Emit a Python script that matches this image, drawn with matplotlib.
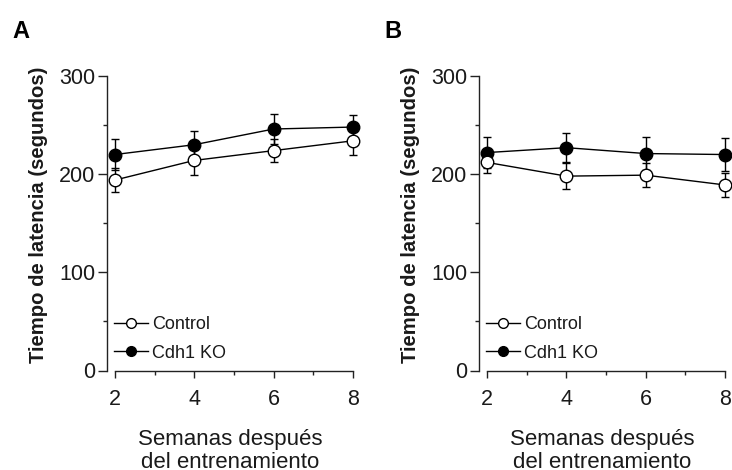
import matplotlib
matplotlib.use("Agg")
import matplotlib.pyplot as plt
from matplotlib.ticker import MultipleLocator
from matplotlib.lines import Line2D

plt.rcParams['font.family'] = ['Liberation Sans', 'DejaVu Sans']

weeks = [2, 4, 6, 8]

# Panel A
a_control = [194, 214, 224, 234]
a_control_err = [12, 15, 12, 14]
a_ko = [220, 230, 246, 248]
a_ko_err = [16, 14, 15, 12]

# Panel B
b_control = [212, 198, 199, 189]
b_control_err = [11, 13, 12, 12]
b_ko = [222, 227, 221, 220]
b_ko_err = [16, 15, 17, 17]

panel_labels = ["A", "B"]
ylabel = "Tiempo de latencia (segundos)"
xlabel = "Semanas después\ndel entrenamiento"
legend_labels = ["Control", "Cdh1 KO"]

W, H = 732, 470
fig = plt.figure(figsize=(W / 100, H / 100), dpi=100)

axes_left_px = [107, 479]
ax_w = 246 / W
ax_b = 1 - 370.5 / H
ax_h = 294.5 / H

data = [(a_control, a_control_err, a_ko, a_ko_err),
        (b_control, b_control_err, b_ko, b_ko_err)]

txt = '#1a1a1a'
for i, (ctl, ctl_e, ko, ko_e) in enumerate(data):
    ax = fig.add_axes([axes_left_px[i] / W, ax_b, ax_w, ax_h])
    ax.set_xlim(1.8, 8)
    ax.set_ylim(0, 300)
    for s in ['top', 'right']:
        ax.spines[s].set_visible(False)
    ax.spines['left'].set_bounds(0, 300)
    ax.spines['bottom'].set_bounds(2, 8)
    for s in ['left', 'bottom']:
        ax.spines[s].set_linewidth(1.0)
        ax.spines[s].set_color('#222222')
    ax.set_xticks(weeks)
    ax.xaxis.set_minor_locator(MultipleLocator(1))
    ax.set_yticks([0, 100, 200, 300])
    ax.yaxis.set_minor_locator(MultipleLocator(50))
    ax.tick_params(which='major', direction='out', length=5, width=1.0,
                   labelsize=15.5, colors='#222222', labelcolor=txt)
    ax.tick_params(which='minor', direction='out', length=3, width=1.0, colors='#222222')
    ax.tick_params(axis='y', which='major', length=6.5, pad=2)
    ax.tick_params(axis='x', which='major', pad=8)

    ax.errorbar(weeks, ko, yerr=ko_e, fmt='-o', color='black', lw=1.0,
                elinewidth=1.0, capsize=3, capthick=1.0, ms=9,
                mfc='black', mec='black', mew=1.0, clip_on=False, zorder=3)
    ax.errorbar(weeks, ctl, yerr=ctl_e, fmt='-o', color='black', lw=1.0,
                elinewidth=1.0, capsize=3, capthick=1.0, ms=9,
                mfc='white', mec='black', mew=1.0, clip_on=False, zorder=4)

    handles = [Line2D([], [], color='black', lw=1.0, marker='o', ms=7,
                      mfc='white', mec='black', mew=1.0),
               Line2D([], [], color='black', lw=1.0, marker='o', ms=7,
                      mfc='black', mec='black', mew=1.0)]
    leg = ax.legend(handles, legend_labels,
                    loc='lower left', bbox_to_anchor=(0.03, 0.03),
                    frameon=False, fontsize=13, handlelength=1.85,
                    handletextpad=0.25, labelspacing=0.62, borderpad=0,
                    borderaxespad=0)
    for t in leg.get_texts():
        t.set_color(txt)

    ax.set_ylabel(ylabel, fontsize=14.6, fontweight='bold', color=txt)
    ax.yaxis.set_label_coords(-0.238, 0.527)
    ax.set_xlabel(xlabel, fontsize=16, color=txt, labelpad=14, linespacing=1.12)

    fig.text((axes_left_px[i] - 95) / W, 1 - 31 / H, panel_labels[i],
             fontsize=17, fontweight='bold', color='black', va='center', ha='left')

fig.savefig('out.png', dpi=100)
